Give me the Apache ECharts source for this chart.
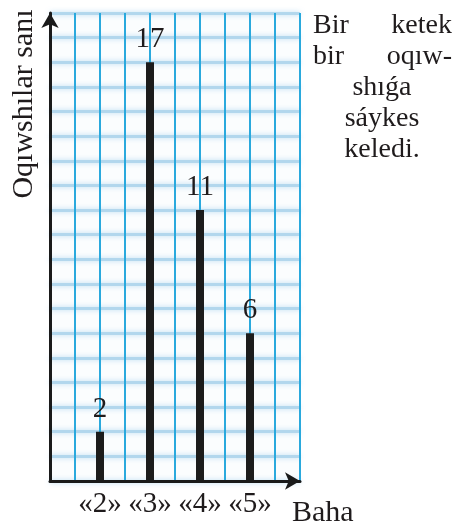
<!DOCTYPE html>
<html>
<head>
<meta charset="utf-8">
<script src="https://cdn.jsdelivr.net/npm/echarts@6/dist/echarts.min.js"></script>
<style>
  html, body { margin: 0; padding: 0; background: #ffffff; }
  #chart { width: 460px; height: 528px; }
</style>
</head>
<body>
<div id="chart"></div>
<script>
// Grades and the number of pupils who received each one
const grades = ['«2»', '«3»', '«4»', '«5»'];
const pupilCounts = [2, 17, 11, 6];

// Axis captions and the side note
const yAxisTitle = 'Oqıwshılar sanı';
const xAxisTitle = 'Baha';
const noteLines = [['Bir', 'ketek'], ['bir', 'oqıw-'], ['shıǵa'], ['sáykes'], ['keledi.']];

const serif = 'Liberation Serif';
const ink = '#1f1b1c';

const chart = echarts.init(document.getElementById('chart'), null, { renderer: 'canvas' });

// Side note: the first two lines are justified, the rest centred
const noteLeft = 313, noteRight = 452, noteMid = 382;
const noteTop = 26, noteStep = 31;
const noteGraphics = [];
noteLines.forEach((words, i) => {
  const y = noteTop + i * noteStep;
  const base = { fontSize: 28, fontFamily: serif, fill: ink, verticalAlign: 'middle' };
  if (words.length === 2) {
    noteGraphics.push({ type: 'text', x: noteLeft, y: y, style: Object.assign({ text: words[0], align: 'left' }, base) });
    noteGraphics.push({ type: 'text', x: noteRight, y: y, style: Object.assign({ text: words[1], align: 'right' }, base) });
  } else {
    noteGraphics.push({ type: 'text', x: noteMid, y: y, style: Object.assign({ text: words[0], align: 'center' }, base) });
  }
});

const option = {
  backgroundColor: '#ffffff',
  animation: false,
  grid: { left: 50, right: 160, top: 13, bottom: 40, show: true, borderWidth: 0, backgroundColor: '#fbfdfe' },
  xAxis: [
    {
      type: 'value', min: 0, max: 5, interval: 1,
      axisLine: { show: true, lineStyle: { color: '#1a1a1a', width: 3 }, symbol: ['none', 'arrow'], symbolSize: [13, 15] },
      axisTick: { show: false },
      splitLine: { show: false },
      axisLabel: {
        margin: 9, fontSize: 29, fontFamily: serif, color: ink,
        formatter: v => grades[v - 1] || ''
      },
      name: xAxisTitle, nameLocation: 'end', nameGap: -8,
      nameTextStyle: { fontSize: 30, fontFamily: serif, color: ink, align: 'left', verticalAlign: 'top', padding: [17, 0, 0, 0] },
      z: 5
    },
    {
      // paper ruling, every half step
      type: 'value', min: 0, max: 10, interval: 1, position: 'bottom',
      axisLine: { show: false }, axisTick: { show: false }, axisLabel: { show: false },
      splitLine: { show: true, lineStyle: { color: '#2aa9dd', width: 2 } }
    }
  ],
  yAxis: {
    type: 'value', min: 0, max: 19, interval: 1,
    axisLine: { show: true, lineStyle: { color: '#1a1a1a', width: 3 }, symbol: ['none', 'arrow'], symbolSize: [13, 15] },
    axisTick: { show: false },
    axisLabel: { show: false },
    splitLine: { show: true, lineStyle: { color: 'rgba(160,205,232,0.7)', width: 3, shadowBlur: 5, shadowColor: 'rgba(130,190,228,0.8)' } }
  },
  series: [{
    type: 'bar',
    xAxisIndex: 0,
    data: pupilCounts.map((c, i) => [i + 1, c]),
    barWidth: 8,
    itemStyle: { color: '#1c1c1c' },
    label: { show: true, position: 'top', distance: 8, fontSize: 29, fontFamily: serif, color: ink, formatter: p => p.value[1] },
    z: 4
  }],
  graphic: [
    { type: 'text', x: 24, y: 104, rotation: Math.PI / 2,
      style: { text: yAxisTitle, fontSize: 30, fontFamily: serif, fill: ink, align: 'center', verticalAlign: 'middle' } },
    ...noteGraphics
  ]
};

chart.setOption(option);
</script>
</body>
</html>
